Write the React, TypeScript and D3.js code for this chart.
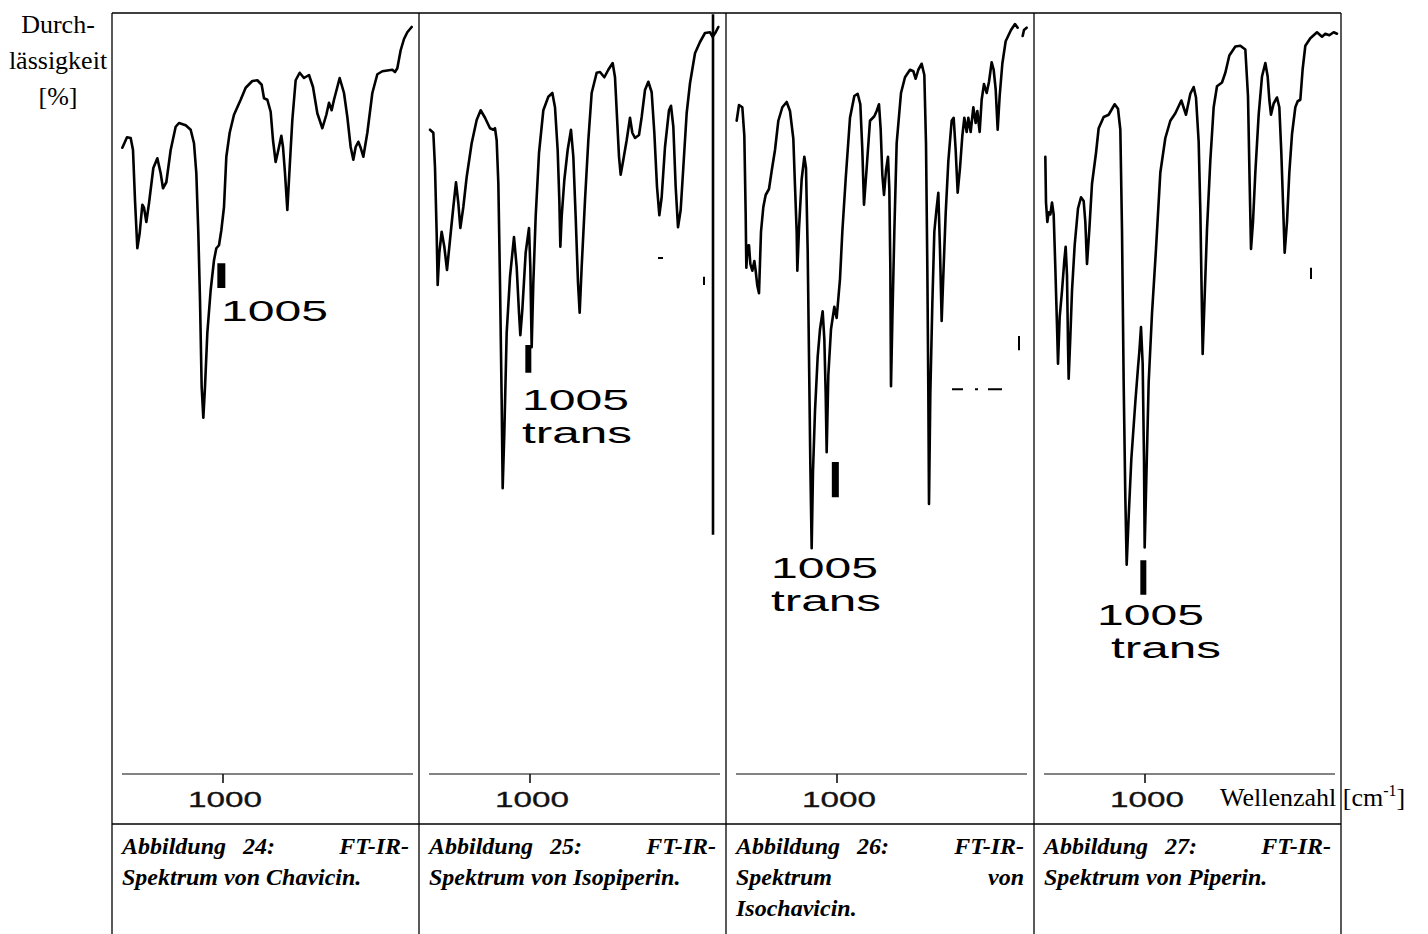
import React from "react";
import * as d3 from "d3";

// FT-IR spectra: wavenumber (cm-1) and transmission (%) per compound
const chavicinWavenumber = [
  1302, 1288, 1277, 1270, 1264, 1257, 1250, 1242, 1237, 1230,
  1222, 1209, 1197, 1187, 1180, 1170, 1157, 1142, 1132, 1112,
  1097, 1087, 1080, 1074, 1069, 1064, 1059, 1054, 1047, 1037,
  1027, 1020, 1012, 1005, 997, 990, 980, 967, 947, 932,
  912, 897, 884, 877, 867, 857, 850, 842, 834, 825,
  820, 814, 807, 800, 792, 782, 770, 757, 742, 730,
  717, 702, 690, 682, 674, 667, 657, 650, 637, 627,
  617, 609, 602, 594, 587, 579, 567, 552, 537, 522,
  492, 484, 477, 467, 457, 447, 434,
];
const chavicinTransmission = [
  83.5, 84.9, 84.8, 83.2, 76.5, 70.1, 72.1, 75.9, 75.5, 73.6,
  76.1, 80.8, 82.1, 80.1, 78.1, 78.9, 83.2, 86.3, 86.8, 86.5,
  85.9, 84.1, 80.1, 72.1, 63.2, 51.6, 47.5, 51.6, 58.8, 64.5,
  68.5, 70.1, 70.5, 72.5, 75.6, 82.3, 85.5, 87.9, 89.9, 91.5,
  92.4, 92.5, 91.9, 90.1, 89.9, 88.3, 84.5, 81.6, 83.2, 85.1,
  83.6, 80.1, 75.2, 80.9, 87.2, 92.5, 93.5, 92.8, 93.2, 91.6,
  88.1, 86.1, 87.9, 89.5, 88.5, 89.9, 91.6, 92.8, 90.8, 87.6,
  83.6, 81.9, 83.6, 84.3, 83.5, 82.3, 85.5, 90.8, 93.3, 93.7,
  93.9, 93.6, 94.1, 96.5, 98.0, 98.9, 99.6,
];

const isopiperinWavenumber = [
  1300, 1290, 1285, 1280, 1277, 1272, 1265, 1257, 1249, 1240,
  1230, 1222, 1215, 1209, 1200, 1190, 1175, 1160, 1148, 1135,
  1120, 1110, 1105, 1100, 1095, 1090, 1085, 1082, 1077, 1070,
  1060, 1048, 1040, 1033, 1029, 1023, 1013, 1003, 999, 995,
  990, 983, 973, 960, 945, 933, 925, 917, 912, 909,
  905, 897, 887, 877, 870, 863, 856, 851, 845, 835,
  825, 815, 800, 790, 777, 765, 752, 745, 739, 733,
  728, 720, 710, 700, 693, 685, 673, 665, 655, 645,
  635, 627, 619, 612, 605, 595, 583, 577, 570, 563,
  556, 548, 540, 530, 520, 505, 490, 475, 460, 452,
  443, 435,
];
const isopiperinTransmission = [
  85.9, 85.5, 80.9, 72.1, 65.2, 69.5, 72.3, 70.3, 67.2, 71.2,
  75.6, 78.9, 76.1, 72.8, 75.6, 79.6, 84.1, 87.2, 88.5, 87.5,
  86.1, 85.9, 86.1, 84.5, 78.8, 65.5, 49.9, 38.1, 45.5, 58.8,
  66.3, 71.6, 67.6, 61.5, 58.5, 61.9, 69.5, 72.8, 67.6, 56.9,
  65.5, 74.3, 82.8, 88.5, 90.3, 90.8, 88.9, 83.2, 76.5, 70.3,
  74.3, 79.2, 83.2, 85.9, 82.3, 74.3, 65.5, 61.5, 67.6, 76.5,
  84.5, 90.8, 93.5, 93.6, 92.9, 93.9, 94.8, 92.9, 87.6, 82.3,
  79.9, 81.9, 84.5, 87.5, 85.5, 84.8, 85.2, 87.6, 91.2, 92.3,
  90.9, 85.5, 78.3, 74.5, 76.9, 83.6, 88.5, 89.1, 86.3, 78.3,
  72.9, 75.2, 80.9, 88.1, 92.1, 96.1, 97.6, 98.8, 98.9, 98.3,
  98.9, 99.6,
];

// null marks a break in the recorded trace
const isochavicinWavenumber = [
  1301, 1294, 1284, 1278, 1274, 1272, 1268, 1264, 1260, 1254,
  1248, 1244, 1239, 1234, 1228, 1221, 1214, 1204, 1196, 1186,
  1176, 1164, 1151, 1141, 1131, 1126, 1121, 1119, 1114, 1106,
  1098, 1093, 1088, 1084, 1080, 1076, 1072, 1066, 1058, 1051,
  1043, 1038, 1034, 1031, 1026, 1018, 1008, 1001, 991, 984,
  974, 961, 948, 938, 930, 924, 919, 911, 901, 888,
  881, 874, 869, 864, 859, 853, 847, 843, 840, 838,
  834, 828, 821, 808, 796, 781, 771, 764, 756, 746,
  738, 733, 729, 726, 724, 720, 714, 708, 702, 696,
  691, 686, 681, 674, 666, 656, 650, 644, 638, 631,
  624, 618, 611, 606, 599, 591, 584, 579, 572, 566,
  559, 551, 544, 536, 530, 524, 518, 512, 504, 494,
  478, 466, 458, 450, 443, 439, 431,
];
const isochavicinTransmission = [
  87.1, 89.2, 88.9, 85.1, 74.7, 67.5, 70.4, 70.5, 68.0, 67.1,
  68.4, 67.1, 65.1, 64.1, 72.3, 75.6, 77.2, 78.0, 80.4, 83.2,
  87.1, 88.9, 89.6, 88.4, 84.7, 78.4, 72.3, 67.1, 72.7, 79.3,
  82.3, 80.8, 69.9, 55.6, 41.3, 30.1, 40.4, 48.4, 55.6, 59.3,
  61.7, 58.0, 50.8, 42.9, 53.2, 59.3, 62.3, 60.8, 66.0, 72.3,
  79.3, 87.5, 90.4, 90.7, 89.3, 83.2, 75.9, 80.8, 87.1, 87.7,
  88.4, 89.3, 86.0, 79.9, 77.2, 80.5, 82.3, 78.0, 67.5, 51.7,
  60.4, 72.3, 84.1, 90.8, 92.9, 93.9, 93.7, 92.7, 93.9, 94.7,
  93.2, 84.1, 67.5, 50.8, 36.0, 50.8, 62.7, 72.3, 75.1, 77.5,
  69.9, 60.4, 66.5, 74.7, 81.7, 87.1, 87.5, 83.2, 77.5, 80.8,
  85.1, 87.5, 85.6, 87.5, 85.6, 88.9, 86.8, 88.4, 85.6, 89.9,
  92.0, 90.8, 92.3, 94.9, 93.9, 91.3, 85.9, 90.4, 94.7, 97.7,
  99.2, 100.0, 99.5, null, 98.4, 99.2, 99.5,
];

const piperinWavenumber = [
  1299, 1297, 1293, 1289, 1284, 1279, 1274, 1269, 1264, 1261,
  1256, 1249, 1242, 1238, 1234, 1231, 1229, 1224, 1219, 1211,
  1201, 1192, 1184, 1179, 1174, 1167, 1159, 1147, 1139, 1124,
  1109, 1091, 1081, 1074, 1069, 1064, 1059, 1055, 1049, 1041,
  1029, 1021, 1017, 1012, 1007, 1003, 1001, 996, 989, 979,
  967, 954, 939, 924, 909, 891, 877, 864, 854, 847,
  839, 834, 829, 827, 822, 814, 804, 794, 784, 769,
  759, 747, 729, 714, 699, 691, 686, 682, 676, 669,
  659, 649, 639, 632, 627, 622, 614, 604, 597, 591,
  586, 581, 574, 567, 559, 549, 542, 534, 527, 519,
  504, 484, 469, 459, 447, 434, 424,
];
const piperinTransmission = [
  82.3, 76.2, 73.6, 74.9, 74.6, 76.2, 74.6, 67.5, 59.8, 54.7,
  60.9, 64.4, 68.5, 70.3, 66.5, 57.3, 52.7, 58.3, 64.4, 70.5,
  75.4, 76.9, 76.4, 73.6, 68.0, 72.6, 78.7, 82.8, 86.1, 87.6,
  87.9, 89.3, 88.7, 85.9, 72.6, 52.2, 36.9, 27.9, 34.3, 42.0,
  49.6, 54.2, 56.3, 59.6, 54.7, 42.0, 30.2, 39.4, 52.2, 61.4,
  70.0, 80.2, 84.8, 87.1, 88.1, 89.8, 87.9, 90.7, 91.6, 90.2,
  84.3, 75.1, 61.4, 56.0, 62.4, 72.6, 81.8, 88.9, 91.7, 92.2,
  93.5, 95.8, 97.0, 97.1, 96.6, 90.4, 78.7, 70.0, 73.6, 80.2,
  87.9, 93.0, 94.8, 93.0, 89.9, 87.9, 89.4, 90.2, 88.9, 82.8,
  76.2, 69.5, 73.6, 80.2, 85.3, 88.9, 89.7, 89.9, 94.0, 97.1,
  98.1, 98.9, 98.3, 98.7, 98.5, 98.9, 98.7,
];

const figureNumbers = [24, 25, 26, 27];
const compoundNames = ["Chavicin", "Isopiperin", "Isochavicin", "Piperin"];
const axisTicks = [1000];
const bandWavenumber = 1005;
const bandTrans = [false, true, true, true];
// transmission range covered by each band marker (%)
const bandMarkerSpan = [
  [68.1, 64.8],
  [57.2, 53.5],
  [41.6, 36.9],
  [28.5, 23.9],
];
// stray strokes on the recorded sheets: [w1, t1, w2, t2]
const sheetStrokes = [
  [],
  [
    [451, 101.3, 451, 31.9],
    [616, 68.8, 601, 68.8],
    [478, 66.3, 478, 65.2],
  ],
  [
    [454, 58.4, 454, 56.5],
    [655, 51.3, 622, 51.3],
    [586, 51.3, 577, 51.3],
    [547, 51.3, 505, 51.3],
  ],
  [[502, 67.5, 502, 66.0]],
];

const spectra = [
  { w: chavicinWavenumber, t: chavicinTransmission },
  { w: isopiperinWavenumber, t: isopiperinTransmission },
  { w: isochavicinWavenumber, t: isochavicinTransmission },
  { w: piperinWavenumber, t: piperinTransmission },
];

// caption lines: [left words, right-justified word or null]
const captions: [string[], string | null][][] = [
  [[["Abbildung", `${figureNumbers[0]}:`], "FT-IR-"], [[`Spektrum von ${compoundNames[0]}.`], null]],
  [[["Abbildung", `${figureNumbers[1]}:`], "FT-IR-"], [[`Spektrum von ${compoundNames[1]}.`], null]],
  [
    [["Abbildung", `${figureNumbers[2]}:`], "FT-IR-"],
    [["Spektrum"], "von"],
    [[`${compoundNames[2]}.`], null],
  ],
  [[["Abbildung", `${figureNumbers[3]}:`], "FT-IR-"], [[`Spektrum von ${compoundNames[3]}.`], null]],
];

// ---- layout ----
const W = 1428;
const H = 934;
const colEdges = [112, 419, 726, 1034, 1341];
const tableTop = 13;
const rowSplit = 824;
const panelWidth = 307;
const captionBaselines = [854, 885, 916];
const captionPadL = 10;
const captionPadR = 10;
const captionNumberDx = 131;
const bandFontSize = 29;
const bandLabelLayout = [
  { dx1: 109, y1: 321, dx2: 109, y2: 0 },
  { dx1: 103, y1: 410, dx2: 103, y2: 443 },
  { dx1: 45, y1: 578, dx2: 45, y2: 611 },
  { dx1: 63, y1: 625, dx2: 77, y2: 658 },
];
const markerWidths = [8, 6, 7, 6];

const SERIF = "'Liberation Serif', 'Times New Roman', Times, serif";
const SANS = "'Liberation Sans', Arial, Helvetica, sans-serif";

const yScale = d3.scaleLinear().domain([0, 100]).range([774, 24]);

function Panel({ index }: { index: number }) {
  const left = colEdges[index];
  const x = d3.scaleLinear().domain([1333, 412]).range([left, left + panelWidth]);
  const data = spectra[index];
  const pts: [number, number | null][] = data.w.map((w, i) => [w, data.t[i]]);
  const path = d3
    .line<[number, number | null]>()
    .defined((d) => d[1] != null)
    .x((d) => x(d[0]))
    .y((d) => yScale(d[1] as number))
    .curve(d3.curveLinear)(pts);

  const axisY = yScale(0);
  const [tTop, tBot] = bandMarkerSpan[index];
  const bx = x(bandWavenumber);
  const mw = markerWidths[index];
  const lab = bandLabelLayout[index];

  return (
    <g>
      {/* x axis */}
      <line x1={x(1303)} x2={x(430)} y1={axisY} y2={axisY} stroke="#5a5a5a" strokeWidth={1.6} />
      {axisTicks.map((t) => (
        <g key={t}>
          <line x1={x(t)} x2={x(t)} y1={axisY} y2={axisY + 9} stroke="#111" strokeWidth={1.6} />
          <text
            x={x(t) + 2}
            y={807}
            textAnchor="middle"
            fontFamily={SANS}
            fontSize={22}
            textLength={74}
            lengthAdjust="spacingAndGlyphs"
            fill="#111"
            stroke="#111"
            strokeWidth={0.3}
          >
            {t}
          </text>
        </g>
      ))}

      {/* spectrum */}
      <path d={path || ""} fill="none" stroke="#000" strokeWidth={2.6} strokeLinejoin="round" strokeLinecap="round" />

      {/* stray strokes */}
      {sheetStrokes[index].map((s, i) => (
        <line
          key={i}
          x1={x(s[0])}
          x2={x(s[2])}
          y1={yScale(s[1])}
          y2={yScale(s[3])}
          stroke="#000"
          strokeWidth={s[1] - s[3] > 20 ? 2.6 : 2}
        />
      ))}

      {/* band marker and its label */}
      <rect x={bx - mw / 2} y={yScale(tTop)} width={mw} height={yScale(tBot) - yScale(tTop)} fill="#000" />
      <text
        x={left + lab.dx1}
        y={lab.y1}
        fontFamily={SANS}
        fontSize={bandFontSize}
        textLength={107}
        lengthAdjust="spacingAndGlyphs"
        fill="#000"
      >
        {bandWavenumber}
      </text>
      {bandTrans[index] && (
        <text
          x={left + lab.dx2}
          y={lab.y2}
          fontFamily={SANS}
          fontSize={bandFontSize}
          textLength={110}
          lengthAdjust="spacingAndGlyphs"
          fill="#000"
        >
          trans
        </text>
      )}

      {/* caption */}
      {captions[index].map((ln, i) => (
        <g key={i} fontFamily={SERIF} fontSize={24} fontWeight="bold" fontStyle="italic" fill="#000">
          <text x={left + captionPadL} y={captionBaselines[i]}>
            {ln[0][0]}
          </text>
          {ln[0][1] && (
            <text x={left + captionNumberDx} y={captionBaselines[i]}>
              {ln[0][1]}
            </text>
          )}
          {ln[1] && (
            <text x={colEdges[index + 1] - captionPadR} y={captionBaselines[i]} textAnchor="end">
              {ln[1]}
            </text>
          )}
        </g>
      ))}
    </g>
  );
}

export default function App() {
  return (
    <svg
      width={W}
      height={H}
      viewBox={`0 0 ${W} ${H}`}
      style={{ position: "absolute", left: 0, top: 0, background: "#fff" }}
    >
      <rect x={0} y={0} width={W} height={H} fill="#fff" />

      {/* table frame */}
      <g stroke="#000" strokeWidth={1.3}>
        <line x1={colEdges[0]} x2={colEdges[4]} y1={tableTop} y2={tableTop} />
        <line x1={colEdges[0]} x2={colEdges[4]} y1={rowSplit} y2={rowSplit} />
        {colEdges.map((cx) => (
          <line key={cx} x1={cx} x2={cx} y1={tableTop} y2={H} />
        ))}
      </g>

      {[0, 1, 2, 3].map((i) => (
        <Panel key={i} index={i} />
      ))}

      {/* y axis title */}
      <g fontFamily={SERIF} fontSize={26} fill="#000" textAnchor="middle">
        <text x={58} y={33}>Durch-</text>
        <text x={58} y={69}>lässigkeit</text>
        <text x={58} y={105}>[%]</text>
      </g>

      {/* x axis title */}
      <text x={1220} y={806} fontFamily={SERIF} fontSize={26} fill="#000">
        Wellenzahl [cm
        <tspan fontSize={16} dy={-10}>-1</tspan>
        <tspan dy={10}>]</tspan>
      </text>
    </svg>
  );
}
